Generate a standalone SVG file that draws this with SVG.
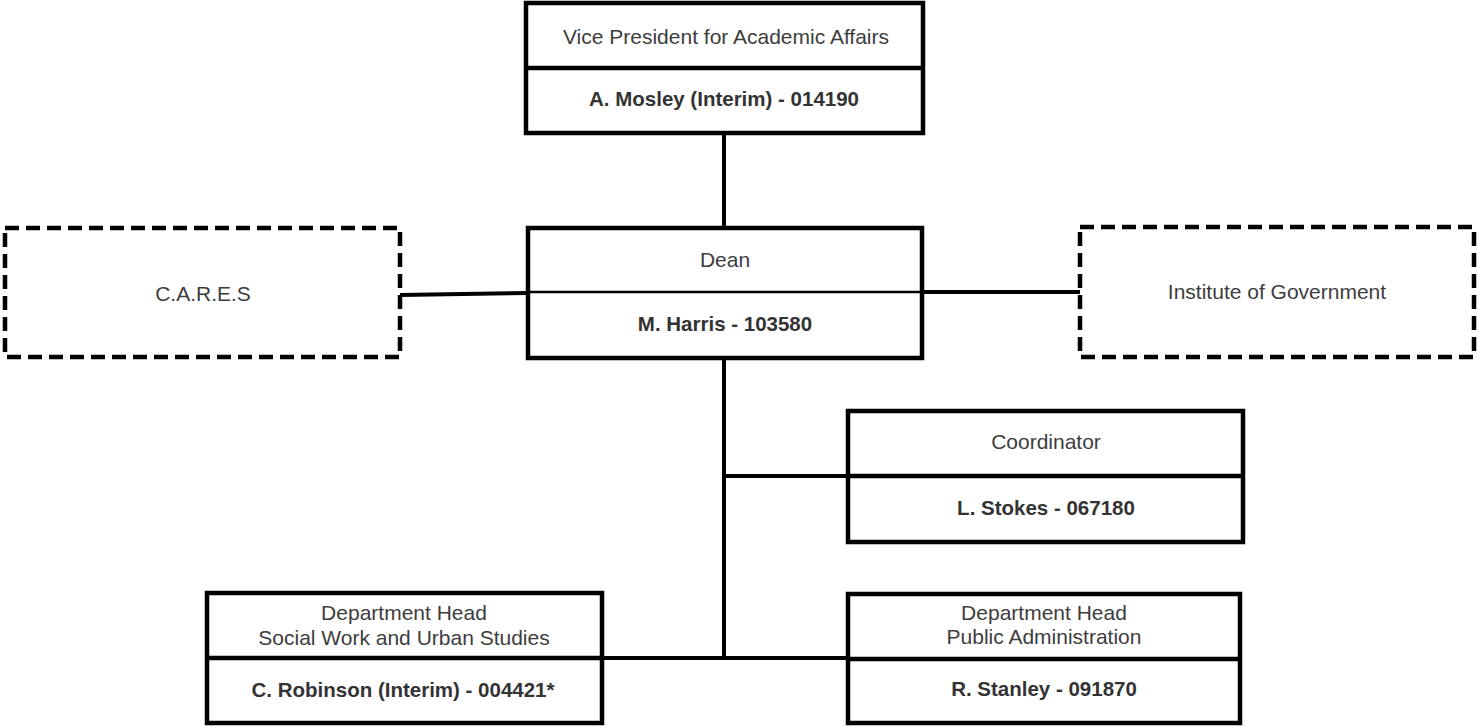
<svg xmlns="http://www.w3.org/2000/svg" width="1479" height="726" viewBox="0 0 1479 726">
<style>
.box{fill:#fff;stroke:#000;stroke-width:4.5}
.dash{fill:#fff;stroke:#000;stroke-width:4.5;stroke-dasharray:14 7}
.div{stroke:#000;stroke-width:4.5}
.thin{stroke:#000;stroke-width:2.5}
.con{stroke:#000;stroke-width:4;fill:none}
.t{font-family:"Liberation Sans",Arial,sans-serif;font-size:21px;fill:#3d3d3d;text-anchor:middle}
.b{font-family:"Liberation Sans",Arial,sans-serif;font-size:20.5px;font-weight:bold;fill:#333;text-anchor:middle}
</style>
<rect width="1479" height="726" fill="#fff"/>
<g id="connectors">
<line class="con" x1="724" y1="133" x2="724" y2="228"/>
<line class="con" x1="724" y1="358" x2="724" y2="660"/>
<line class="con" x1="400" y1="295" x2="528" y2="293"/>
<line class="con" x1="922" y1="292" x2="1080" y2="292"/>
<line class="con" x1="722" y1="476" x2="848" y2="476"/>
<line class="con" x1="602" y1="658" x2="848" y2="658"/>
</g>
<g id="vp">
<rect class="box" x="526" y="3" width="397" height="130"/>
<line class="div" x1="526" y1="68" x2="923" y2="68"/>
<text class="t" x="726" y="44">Vice President for Academic Affairs</text>
<text class="b" x="724" y="106">A. Mosley (Interim) - 014190</text>
</g>
<g id="dean">
<rect class="box" x="528" y="228" width="394" height="130"/>
<line class="thin" x1="528" y1="292" x2="922" y2="292"/>
<text class="t" x="725" y="267">Dean</text>
<text class="b" x="725" y="331">M. Harris - 103580</text>
</g>
<g id="cares">
<rect class="dash" x="5" y="228" width="395" height="129"/>
<text class="t" x="203" y="301">C.A.R.E.S</text>
</g>
<g id="iog">
<rect class="dash" x="1080" y="227" width="394" height="130"/>
<text class="t" x="1277" y="299">Institute of Government</text>
</g>
<g id="coordinator">
<rect class="box" x="848" y="411" width="395" height="131"/>
<line class="div" x1="848" y1="476" x2="1243" y2="476"/>
<text class="t" x="1046" y="449">Coordinator</text>
<text class="b" x="1046" y="515">L. Stokes - 067180</text>
</g>
<g id="swus">
<rect class="box" x="207" y="593" width="395" height="130"/>
<line class="div" x1="207" y1="658" x2="602" y2="658"/>
<text class="t" x="404" y="620">Department Head</text>
<text class="t" x="404" y="645">Social Work and Urban Studies</text>
<text class="b" x="403" y="697">C. Robinson (Interim) - 004421*</text>
</g>
<g id="pa">
<rect class="box" x="848" y="594" width="392" height="129"/>
<line class="div" x1="848" y1="659" x2="1240" y2="659"/>
<text class="t" x="1044" y="620">Department Head</text>
<text class="t" x="1044" y="644">Public Administration</text>
<text class="b" x="1044" y="696">R. Stanley - 091870</text>
</g>
</svg>
